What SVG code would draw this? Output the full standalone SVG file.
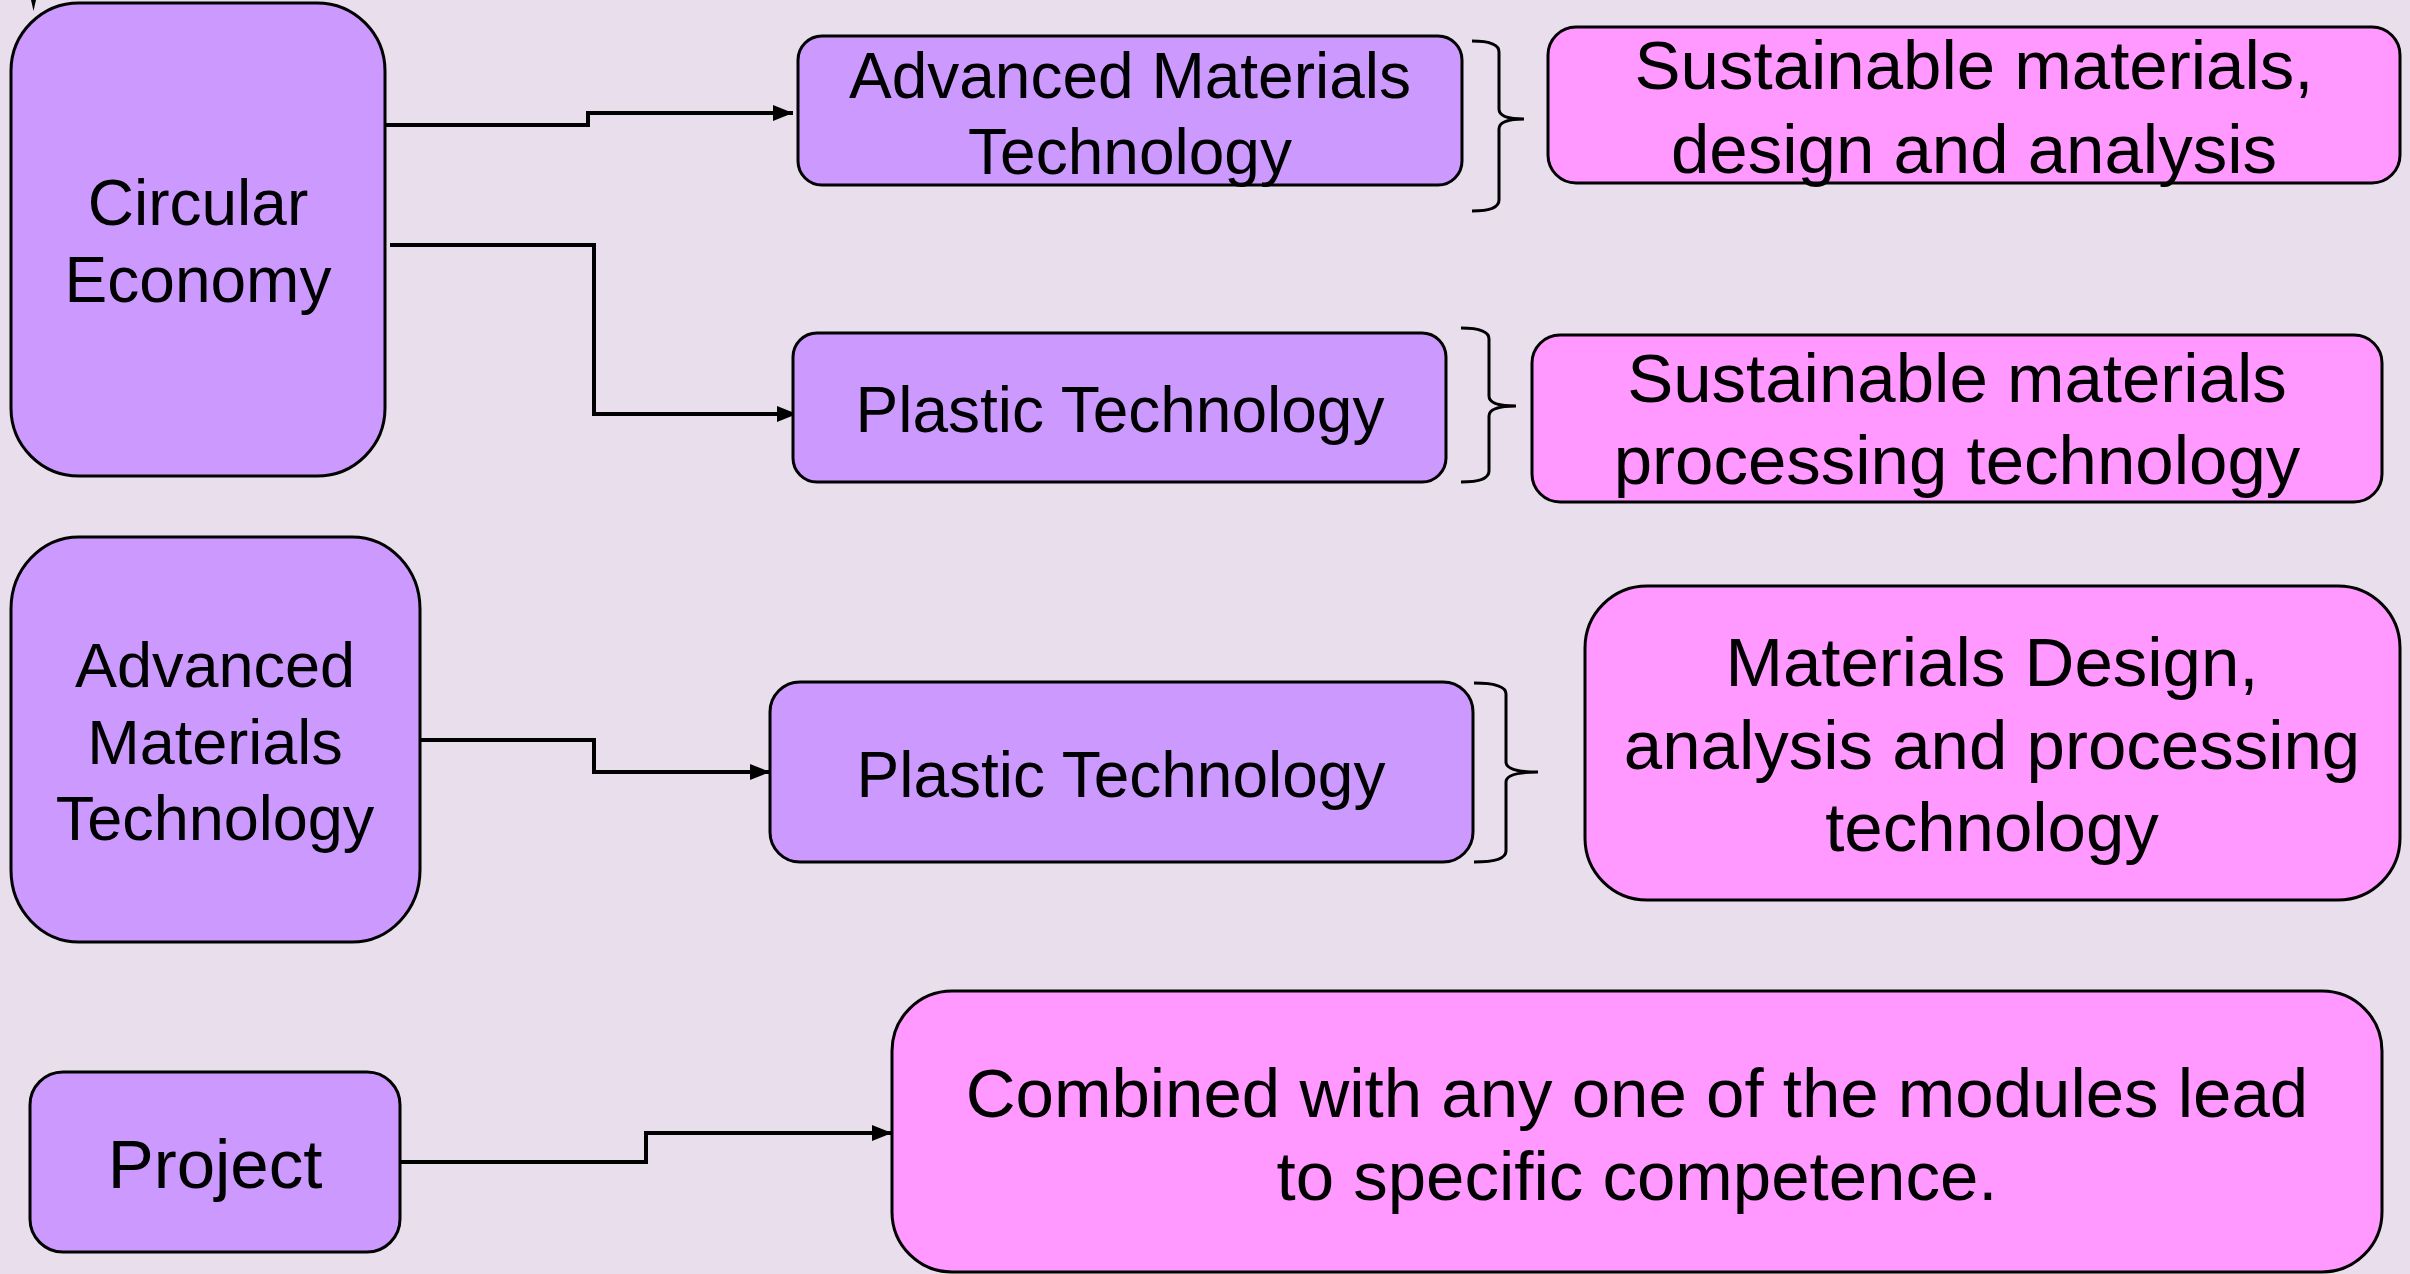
<svg xmlns="http://www.w3.org/2000/svg" width="2410" height="1274" viewBox="0 0 2410 1274">
<defs>
<style>
.p{fill:#CC99FF;stroke:#000;stroke-width:3}
.k{fill:#FF99FF;stroke:#000;stroke-width:3}
.t{font-family:"Liberation Sans",Arial,sans-serif;fill:#000;text-anchor:middle}
.c{fill:none;stroke:#000;stroke-width:4}
.b{fill:none;stroke:#000;stroke-width:3}
</style>
<marker id="ah" markerWidth="5" markerHeight="4" refX="5" refY="2" orient="auto" markerUnits="strokeWidth">
<path d="M0,0 L5,2 L0,4 Z" fill="#000"/>
</marker>
</defs>
<rect width="2410" height="1274" fill="#E9DFEC"/>
<path d="M31,0 L36,0 L33.5,11 Z" fill="#000"/>
<g id="connectors">
<path class="c" d="M384,125 H588 V113 H793" marker-end="url(#ah)"/>
<path class="c" d="M390,245 H594 V414 H797" marker-end="url(#ah)"/>
<path class="c" d="M420,740 H594 V772 H770" marker-end="url(#ah)"/>
<path class="c" d="M400,1162 H646 V1133 H892" marker-end="url(#ah)"/>
</g>
<g id="braces">
<path class="b" d="M1472,41 Q1499,41 1499,52 L1499,109 Q1499,119 1524,119 Q1499,119 1499,129 L1499,200 Q1499,211 1472,211"/>
<path class="b" d="M1461,328 Q1489,328 1489,339 L1489,396 Q1489,406 1516,406 Q1489,406 1489,416 L1489,471 Q1489,482 1461,482"/>
<path class="b" d="M1474,683 Q1506,683 1506,694 L1506,762 Q1506,772 1538,772 Q1506,772 1506,782 L1506,851 Q1506,862 1474,862"/>
</g>
<g id="circular-economy">
<rect class="p" x="11" y="3" width="374" height="473" rx="68" ry="68"/>
<text class="t" font-size="64" x="198" y="225">Circular</text>
<text class="t" font-size="64" x="198" y="302">Economy</text>
</g>
<g id="amt-module">
<rect class="p" x="798" y="36" width="664" height="149" rx="24" ry="24"/>
<text class="t" font-size="64" x="1130" y="98">Advanced Materials</text>
<text class="t" font-size="64" x="1130" y="174">Technology</text>
</g>
<g id="pt-module-1">
<rect class="p" x="793" y="333" width="653" height="149" rx="24" ry="24"/>
<text class="t" font-size="64" x="1120" y="432">Plastic Technology</text>
</g>
<g id="sust-design">
<rect class="k" x="1548" y="27" width="852" height="156" rx="28" ry="28"/>
<text class="t" font-size="69" x="1974" y="89">Sustainable materials,</text>
<text class="t" font-size="69" x="1974" y="173">design and analysis</text>
</g>
<g id="sust-processing">
<rect class="k" x="1532" y="335" width="850" height="167" rx="28" ry="28"/>
<text class="t" font-size="69" x="1957" y="402">Sustainable materials</text>
<text class="t" font-size="69" x="1957" y="484">processing technology</text>
</g>
<g id="amt">
<rect class="p" x="11" y="537" width="409" height="405" rx="68" ry="72"/>
<text class="t" font-size="63" x="215" y="687">Advanced</text>
<text class="t" font-size="63" x="215" y="764">Materials</text>
<text class="t" font-size="63" x="215" y="840">Technology</text>
</g>
<g id="pt-module-2">
<rect class="p" x="770" y="682" width="703" height="180" rx="30" ry="30"/>
<text class="t" font-size="64" x="1121" y="797">Plastic Technology</text>
</g>
<g id="materials-design">
<rect class="k" x="1585" y="586" width="815" height="314" rx="62" ry="62"/>
<text class="t" font-size="69" x="1992" y="686">Materials Design,</text>
<text class="t" font-size="69" x="1992" y="769">analysis and processing</text>
<text class="t" font-size="69" x="1992" y="851">technology</text>
</g>
<g id="project">
<rect class="p" x="30" y="1072" width="370" height="180" rx="33" ry="33"/>
<text class="t" font-size="69" x="215" y="1188">Project</text>
</g>
<g id="combined">
<rect class="k" x="892" y="991" width="1490" height="281" rx="60" ry="60"/>
<text class="t" font-size="69" x="1637" y="1117">Combined with any one of the modules lead</text>
<text class="t" font-size="69" x="1637" y="1200">to specific competence.</text>
</g>
</svg>
